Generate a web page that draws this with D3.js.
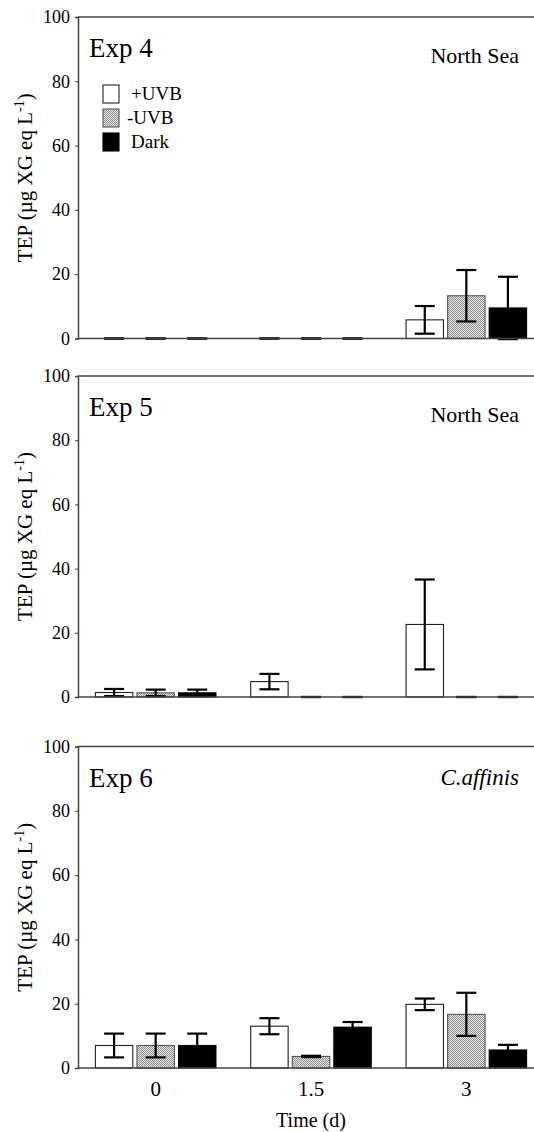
<!DOCTYPE html>
<html>
<head>
<meta charset="utf-8">
<script src="https://cdn.jsdelivr.net/npm/d3@7"></script>
<style>
  body { margin: 0; background: #fff; }
  svg, svg text { font-family: "Liberation Serif", "Times New Roman", serif; }
  svg { display: block; }
</style>
</head>
<body>
<div id="chart"></div>
<script>
// sampling times (d) and treatments
const times = [0, 1.5, 3];
const treatments = ["+UVB", "-UVB", "Dark"];
const yTicks = [0, 20, 40, 60, 80, 100];

// TEP means and error bars, one array per treatment (values at 0, 1.5, 3 d)
const exp4Plus = [0, 0, 5.8];
const exp4Minus = [0, 0, 13.3];
const exp4Dark = [0, 0, 9.5];
const exp4PlusErr = [0, 0, 4.3];
const exp4MinusErr = [0, 0, 8.0];
const exp4DarkErr = [0, 0, 9.7];

const exp5Plus = [1.4, 4.8, 22.6];
const exp5Minus = [1.3, 0, 0];
const exp5Dark = [1.3, 0, 0];
const exp5PlusErr = [1.1, 2.4, 14.0];
const exp5MinusErr = [1.0, 0, 0];
const exp5DarkErr = [1.0, 0, 0];

const exp6Plus = [7.0, 13.0, 19.8];
const exp6Minus = [7.0, 3.6, 16.7];
const exp6Dark = [7.0, 12.7, 5.6];
const exp6PlusErr = [3.7, 2.5, 1.8];
const exp6MinusErr = [3.7, 0.2, 6.7];
const exp6DarkErr = [3.7, 1.6, 1.6];

const panels = [
    { name: "Exp 4", site: "North Sea", italic: false, top: 17, bottom: 338.5,
      means: [exp4Plus, exp4Minus, exp4Dark], errs: [exp4PlusErr, exp4MinusErr, exp4DarkErr] },
    { name: "Exp 5", site: "North Sea", italic: false, top: 376, bottom: 697,
      means: [exp5Plus, exp5Minus, exp5Dark], errs: [exp5PlusErr, exp5MinusErr, exp5DarkErr] },
    { name: "Exp 6", site: "C.affinis", italic: true, top: 746.5, bottom: 1068,
      means: [exp6Plus, exp6Minus, exp6Dark], errs: [exp6PlusErr, exp6MinusErr, exp6DarkErr] }
];

const width = 534, height = 1132;
const left = 78;
const serif = "'Liberation Serif', 'Times New Roman', serif";

const svg = d3.select("#chart").append("svg")
    .attr("width", width)
    .attr("height", height);

// halftone-like gray fill for -UVB
const pat = svg.append("defs").append("pattern")
    .attr("id", "dots")
    .attr("width", 2).attr("height", 2)
    .attr("patternUnits", "userSpaceOnUse");
pat.append("rect").attr("width", 2).attr("height", 2).attr("fill", "#eaeaea");
pat.append("rect").attr("width", 1).attr("height", 1).attr("fill", "#8c8c8c");
pat.append("rect").attr("x", 1).attr("y", 1).attr("width", 1).attr("height", 1).attr("fill", "#8c8c8c");

const fills = { "+UVB": "#fff", "-UVB": "url(#dots)", "Dark": "#000" };
const strokes = { "+UVB": "#222", "-UVB": "#555", "Dark": "#000" };

const x = d3.scaleLinear().domain([-0.75, 3.75]).range([left, 544]);
const band = d3.scaleBand().domain(treatments).range([-0.582, 0.582]).paddingInner(0.1);

panels.forEach((p, pi) => {
    const y = d3.scaleLinear().domain([0, 100]).range([p.bottom, p.top]);
    const g = svg.append("g");

    // frame: top border
    g.append("line")
        .attr("x1", left).attr("x2", width)
        .attr("y1", y(100)).attr("y2", y(100))
        .attr("stroke", "#444").attr("stroke-width", 1.5);

    // bars
    treatments.forEach((t, ti) => {
        const rows = times.map((tm, i) => ({ t: tm, v: p.means[ti][i], e: p.errs[ti][i] }));
        g.append("g").selectAll("rect")
            .data(rows)
            .join("rect")
            .attr("x", d => x(d.t + band(t)))
            .attr("width", d => x(d.t + band(t) + band.bandwidth()) - x(d.t + band(t)))
            .attr("y", d => y(d.v))
            .attr("height", d => y(0) - y(d.v))
            .attr("fill", fills[t])
            .attr("stroke", strokes[t])
            .attr("stroke-width", 1.1);

        // error bars
        const eb = g.append("g").attr("stroke", "#000").attr("stroke-width", 2.2);
        rows.forEach(d => {
            const cx = x(d.t + band(t) + band.bandwidth() / 2);
            eb.append("line").attr("x1", cx).attr("x2", cx)
                .attr("y1", y(d.v - d.e)).attr("y2", y(d.v + d.e));
            [d.v - d.e, d.v + d.e].forEach(v => {
                eb.append("line").attr("x1", cx - 10).attr("x2", cx + 10)
                    .attr("y1", y(v)).attr("y2", y(v));
            });
        });
    });

    // baseline
    g.append("line")
        .attr("x1", left).attr("x2", width)
        .attr("y1", y(0)).attr("y2", y(0))
        .attr("stroke", "#444").attr("stroke-width", 1.5);

    // y axis
    const ya = g.append("g")
        .attr("transform", `translate(${left},0)`)
        .call(d3.axisLeft(y).tickValues(yTicks).tickSize(3).tickPadding(5));
    ya.attr("font-family", null);
    ya.select(".domain").attr("stroke", "#444").attr("stroke-width", 1.5);
    ya.selectAll(".tick line").attr("stroke", "#444");
    ya.selectAll("text")
        .style("font-family", serif)
        .attr("font-size", 18)
        .attr("fill", "#000");

    // y title
    const yt = g.append("text")
        .attr("transform", `translate(32,${(p.top + p.bottom) / 2}) rotate(-90)`)
        .attr("text-anchor", "middle")
        .attr("font-size", 21);
    yt.append("tspan").text("TEP (µg XG eq L");
    yt.append("tspan").attr("font-size", 14).attr("dy", -8).text("-1");
    yt.append("tspan").attr("dy", 8).text(")");

    // labels
    g.append("text")
        .attr("x", 89).attr("y", p.top + 40)
        .attr("font-size", 27)
        .text(p.name);
    g.append("text")
        .attr("x", 519).attr("y", p.top + (p.italic ? 38 : 46))
        .attr("text-anchor", "end")
        .attr("font-size", p.italic ? 23 : 22)
        .attr("font-style", p.italic ? "italic" : "normal")
        .text(p.site);

    // legend in first panel
    if (pi === 0) {
        const lg = g.append("g");
        treatments.forEach((t, ti) => {
            const ry = 85 + ti * 24;
            lg.append("rect")
                .attr("x", 103).attr("y", ry)
                .attr("width", 16).attr("height", 18)
                .attr("fill", fills[t]).attr("stroke", strokes[t]).attr("stroke-width", 1.1);
            lg.append("text")
                .attr("x", t === "-UVB" ? 127 : 131).attr("y", ry + 15)
                .attr("font-size", 19)
                .text(t);
        });
    }

    // x axis labels on bottom panel
    if (pi === panels.length - 1) {
        g.append("g").selectAll("text")
            .data(times)
            .join("text")
            .attr("x", d => x(d))
            .attr("y", y(0) + 28)
            .attr("text-anchor", "middle")
            .attr("font-size", 21)
            .text(d => d);
        g.append("text")
            .attr("x", x(1.5)).attr("y", 1127)
            .attr("text-anchor", "middle")
            .attr("font-size", 20)
            .text("Time (d)");
    }
});
</script>
</body>
</html>
